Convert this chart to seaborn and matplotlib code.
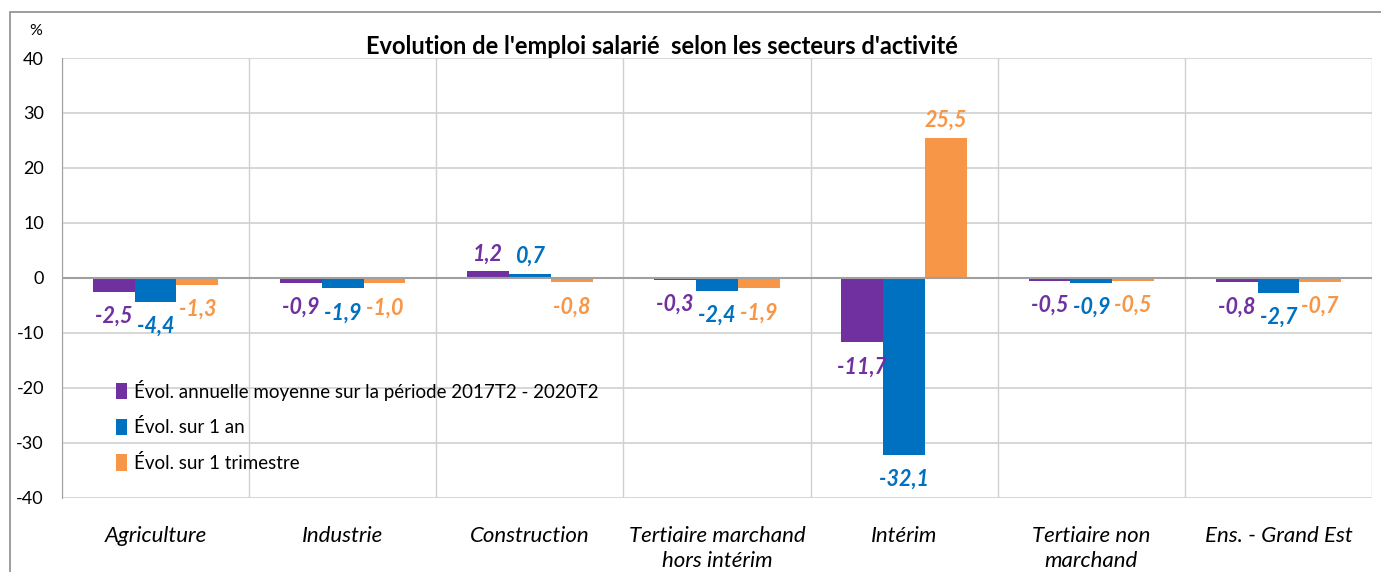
import numpy as np
import pandas as pd
import matplotlib
matplotlib.use("Agg")
import matplotlib.pyplot as plt
import matplotlib.patches as mpatches
import seaborn as sns

# Data
secteurs = ["Agriculture", "Industrie", "Construction", "Tertiaire marchand\nhors intérim",
            "Intérim", "Tertiaire non\nmarchand", "Ens. - Grand Est"]
series = ["Évol. annuelle moyenne sur la période 2017T2 - 2020T2",
          "Évol. sur 1 an",
          "Évol. sur 1 trimestre"]
evol_annuelle = [-2.5, -0.9, 1.2, -0.3, -11.7, -0.5, -0.8]
evol_1an = [-4.4, -1.9, 0.7, -2.4, -32.1, -0.9, -2.7]
evol_1trim = [-1.3, -1.0, -0.8, -1.9, 25.5, -0.5, -0.7]
couleurs = ["#7030A0", "#0070C0", "#F79646"]
yticks = [-40, -30, -20, -10, 0, 10, 20, 30, 40]

df = pd.DataFrame({
    "secteur": secteurs * 3,
    "serie": [series[0]] * 7 + [series[1]] * 7 + [series[2]] * 7,
    "valeur": evol_annuelle + evol_1an + evol_1trim,
})

sns.set_style("white")
plt.rcParams["font.family"] = ["Lato", "DejaVu Sans"]
plt.rcParams["text.color"] = "black"
plt.rcParams["xtick.color"] = "black"
plt.rcParams["ytick.color"] = "black"

fig = plt.figure(figsize=(13.81, 5.72), dpi=100)
ax = fig.add_axes([0.0449, 0.1294, 0.9486, 0.7692])

sns.barplot(data=df, x="secteur", y="valeur", hue="serie", order=secteurs,
            hue_order=series, palette=couleurs, width=0.67, saturation=1,
            linewidth=0, ax=ax, legend=True)

# data labels, comma decimals (negatives sit a bit further from the bar end)
for cont, col in zip(ax.containers, couleurs):
    vals = cont.datavalues
    fmt = [f"{v:.1f}".replace(".", ",") for v in vals]
    neg = [s if v < 0 else "" for s, v in zip(fmt, vals)]
    pos = [s if v >= 0 else "" for s, v in zip(fmt, vals)]
    ax.bar_label(cont, labels=neg, padding=10, color=col, fontsize=15.5,
                 fontweight="bold", fontstyle="italic")
    ax.bar_label(cont, labels=pos, padding=5, color=col, fontsize=15.5,
                 fontweight="bold", fontstyle="italic")

ax.set_ylim(-40, 40)
ax.set_xlim(-0.5, len(secteurs) - 0.5)
ax.set_yticks(yticks)
ax.set_yticklabels([str(t) for t in yticks], fontsize=13)
ax.set_xticks(range(len(secteurs)))
ax.set_xticklabels(secteurs, fontsize=16, fontstyle="italic", linespacing=1.35)
ax.set_xticks(np.arange(-0.5, len(secteurs), 1), minor=True)
ax.tick_params(axis="x", which="both", length=0, pad=20)
ax.tick_params(axis="y", length=5, color="#A0A0A0", pad=8)
ax.set_xlabel("")
ax.set_ylabel("")

ax.grid(axis="y", color="#D0D0D0", linewidth=1.2)
ax.grid(axis="x", which="minor", color="#D0D0D0", linewidth=1.0)
ax.set_axisbelow(True)
ax.axhline(0, color="#A0A0A0", linewidth=1.5, zorder=1)
for side in ["top", "right", "bottom"]:
    ax.spines[side].set_visible(False)
ax.spines["left"].set_color("#A0A0A0")

leg = ax.legend(loc="upper left", bbox_to_anchor=(0.072, 0.366),
                bbox_transform=fig.transFigure, frameon=False, fontsize=13.5,
                handlelength=0.55, handleheight=1.0, handletextpad=0.4,
                labelspacing=0.95)

fig.text(0.479, 0.918, "Evolution de l'emploi salarié  selon les secteurs d'activité",
         ha="center", va="center", fontsize=17, fontweight="bold")
fig.text(0.026, 0.946, "%", ha="center", va="center", fontsize=11.5)

# outer chart border
fig.patches.append(mpatches.Rectangle((0.007, -0.01), 1.0, 0.989, transform=fig.transFigure,
                                      fill=False, edgecolor="#8C8C8C", linewidth=1.2))

fig.savefig("out.png", dpi=100)
